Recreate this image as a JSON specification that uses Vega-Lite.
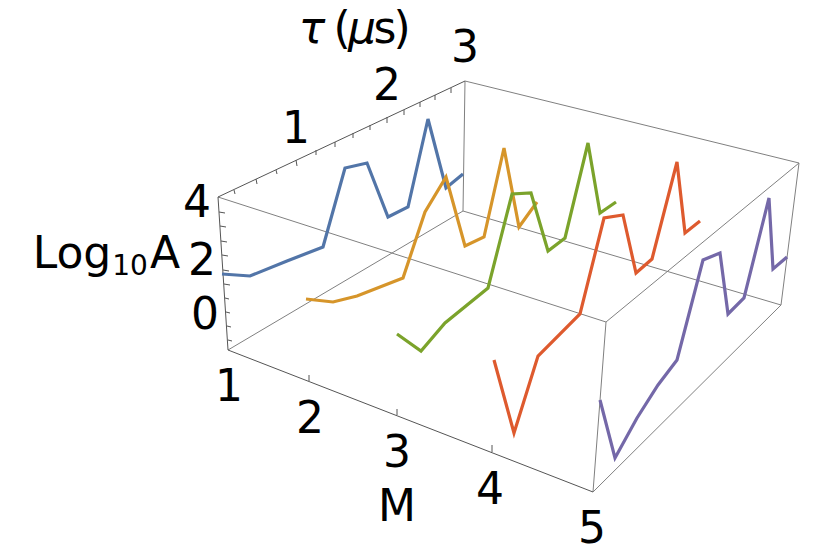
{"$schema":"https://vega.github.io/schema/vega-lite/v6.json","width":830,"height":554,"autosize":{"type":"fit","contains":"padding"},"padding":0,"background":"white","view":{"stroke":null},
"datasets":{
"edges":[
{"e":"AD","x0":218,"y0":197,"x1":606,"y1":322},{"e":"EF","x0":465,"y0":81,"x1":463,"y1":211},{"e":"EG","x0":465,"y0":81,"x1":799,"y1":163},{"e":"DG","x0":606,"y0":322,"x1":799,"y1":163},{"e":"GH","x0":799,"y0":163,"x1":781,"y1":305},{"e":"DC","x0":606,"y0":322,"x1":593,"y1":492},{"e":"CH","x0":593,"y0":492,"x1":781,"y1":305},{"e":"BF","x0":228,"y0":350,"x1":463,"y1":211},{"e":"FH","x0":463,"y0":211,"x1":781,"y1":305}],
"axes":[
{"e":"AE","x0":218,"y0":197,"x1":465,"y1":81},{"e":"AB","x0":218,"y0":197,"x1":228,"y1":350},{"e":"BC","x0":228,"y0":350,"x1":593,"y1":492},
{"e":"m2","x0":309,"y0":381,"x1":309,"y1":375},{"e":"m3","x0":397,"y0":415,"x1":397,"y1":409},{"e":"m4","x0":492,"y0":452,"x1":492,"y1":445},
{"e":"t1","x0":234,"y0":190,"x1":235,"y1":194},{"e":"t2","x0":256,"y0":179,"x1":257,"y1":184},{"e":"t3","x0":276,"y0":170,"x1":277,"y1":174},{"e":"t4","x0":296,"y0":160,"x1":297,"y1":166},{"e":"t5","x0":316,"y0":150,"x1":316,"y1":155},{"e":"t6","x0":335,"y0":142,"x1":335,"y1":147},{"e":"t7","x0":353,"y0":133,"x1":353,"y1":138},{"e":"t8","x0":370,"y0":125,"x1":370,"y1":130},{"e":"t9","x0":387,"y0":117,"x1":387,"y1":123},{"e":"t10","x0":404,"y0":110,"x1":404,"y1":115},{"e":"t11","x0":420,"y0":102,"x1":420,"y1":107},{"e":"t12","x0":435,"y0":95,"x1":435,"y1":100},{"e":"t13","x0":451,"y0":88,"x1":451,"y1":93},
{"e":"z1","x0":219,"y0":212,"x1":225,"y1":213},{"e":"z2","x0":220,"y0":226,"x1":226,"y1":227},{"e":"z3","x0":221,"y0":241,"x1":227,"y1":242},{"e":"z4","x0":222,"y0":255,"x1":228,"y1":256},{"e":"z5","x0":223,"y0":270,"x1":229,"y1":271},{"e":"z6","x0":224,"y0":284,"x1":230,"y1":285},{"e":"z7","x0":225,"y0":298,"x1":229,"y1":299},{"e":"z8","x0":226,"y0":312,"x1":230,"y1":313},{"e":"z9","x0":227,"y0":326,"x1":231,"y1":327},{"e":"z10","x0":228,"y0":340,"x1":232,"y1":341}],
"traces":[
{"M":"1","i":1,"x":222,"y":274},{"M":"1","i":2,"x":250,"y":276},{"M":"1","i":3,"x":287,"y":261},{"M":"1","i":4,"x":323,"y":247},{"M":"1","i":5,"x":345,"y":168},{"M":"1","i":6,"x":367,"y":163},{"M":"1","i":7,"x":388,"y":217},{"M":"1","i":8,"x":408,"y":207},{"M":"1","i":9,"x":428,"y":119},{"M":"1","i":10,"x":446,"y":188},{"M":"1","i":11,"x":463,"y":174},
{"M":"2","i":1,"x":306,"y":299},{"M":"2","i":2,"x":333,"y":302},{"M":"2","i":3,"x":357,"y":296},{"M":"2","i":4,"x":403,"y":278},{"M":"2","i":5,"x":425,"y":212},{"M":"2","i":6,"x":446,"y":177},{"M":"2","i":7,"x":465,"y":246},{"M":"2","i":8,"x":484,"y":237},{"M":"2","i":9,"x":504,"y":148},{"M":"2","i":10,"x":519,"y":227},{"M":"2","i":11,"x":537,"y":202},
{"M":"3","i":1,"x":397,"y":334},{"M":"3","i":2,"x":421,"y":351},{"M":"3","i":3,"x":445,"y":323},{"M":"3","i":4,"x":488,"y":288},{"M":"3","i":5,"x":512,"y":194},{"M":"3","i":6,"x":531,"y":193},{"M":"3","i":7,"x":548,"y":251},{"M":"3","i":8,"x":565,"y":238},{"M":"3","i":9,"x":588,"y":143},{"M":"3","i":10,"x":600,"y":213},{"M":"3","i":11,"x":616,"y":202},
{"M":"4","i":1,"x":494,"y":360},{"M":"4","i":2,"x":514,"y":433},{"M":"4","i":3,"x":538,"y":356},{"M":"4","i":4,"x":580,"y":314},{"M":"4","i":5,"x":604,"y":218},{"M":"4","i":6,"x":623,"y":215},{"M":"4","i":7,"x":636,"y":273},{"M":"4","i":8,"x":652,"y":259},{"M":"4","i":9,"x":677,"y":162},{"M":"4","i":10,"x":685,"y":233},{"M":"4","i":11,"x":700,"y":221},
{"M":"5","i":1,"x":600,"y":400},{"M":"5","i":2,"x":615,"y":458},{"M":"5","i":3,"x":637,"y":418},{"M":"5","i":4,"x":658,"y":385},{"M":"5","i":5,"x":677,"y":360},{"M":"5","i":6,"x":703,"y":260},{"M":"5","i":7,"x":720,"y":253},{"M":"5","i":8,"x":728,"y":314},{"M":"5","i":9,"x":744,"y":298},{"M":"5","i":10,"x":769,"y":198},{"M":"5","i":11,"x":773,"y":269},{"M":"5","i":12,"x":787,"y":257}],
"labels":[
{"t":"1","x":296,"y":143},{"t":"2","x":387,"y":100},{"t":"3","x":465,"y":62},{"t":"4","x":197,"y":217},{"t":"2","x":202,"y":275},{"t":"0","x":205,"y":329},{"t":"1","x":229,"y":401},{"t":"2","x":310,"y":433},{"t":"3","x":397,"y":467},{"t":"4","x":490,"y":504},{"t":"5","x":592,"y":543},{"t":"M","x":397,"y":521},{"t":"Log","x":72,"y":268},{"t":"A","x":165,"y":268},{"t":"(","x":342,"y":43},{"t":"s","x":385,"y":43},{"t":")","x":402,"y":43}],
"italics":[{"t":"τ","x":312,"y":43},{"t":"μ","x":362,"y":43}],
"subs":[{"t":"10","x":130,"y":275}]
},
"encoding":{},
"layer":[
{"data":{"name":"edges"},"mark":{"type":"rule","color":"#808080","strokeWidth":1},"encoding":{"x":{"field":"x0","type":"quantitative","scale":{"domain":[0,830],"nice":false,"zero":false},"axis":null},"y":{"field":"y0","type":"quantitative","scale":{"domain":[554,0],"nice":false,"zero":false},"axis":null},"x2":{"field":"x1"},"y2":{"field":"y1"}}},
{"data":{"name":"axes"},"mark":{"type":"rule","color":"#555555","strokeWidth":1},"encoding":{"x":{"field":"x0","type":"quantitative","axis":null},"y":{"field":"y0","type":"quantitative","axis":null},"x2":{"field":"x1"},"y2":{"field":"y1"}}},
{"data":{"name":"traces"},"mark":{"type":"line","strokeWidth":3.2,"strokeJoin":"miter","interpolate":"linear"},"encoding":{"x":{"field":"x","type":"quantitative","axis":null},"y":{"field":"y","type":"quantitative","axis":null},"order":{"field":"i"},"color":{"field":"M","type":"nominal","legend":null,"scale":{"domain":["1","2","3","4","5"],"range":["#5275A8","#D6952A","#7BA32B","#DE5A2E","#7468A8"]}}}},
{"data":{"name":"labels"},"mark":{"type":"text","font":"DejaVu Sans","fontSize":44,"align":"center","baseline":"alphabetic","color":"black"},"encoding":{"x":{"field":"x","type":"quantitative","axis":null},"y":{"field":"y","type":"quantitative","axis":null},"text":{"field":"t"}}},
{"data":{"name":"italics"},"mark":{"type":"text","font":"DejaVu Sans","fontSize":44,"fontStyle":"italic","align":"center","baseline":"alphabetic","color":"black"},"encoding":{"x":{"field":"x","type":"quantitative","axis":null},"y":{"field":"y","type":"quantitative","axis":null},"text":{"field":"t"}}},
{"data":{"name":"subs"},"mark":{"type":"text","font":"DejaVu Sans","fontSize":28,"align":"center","baseline":"alphabetic","color":"black"},"encoding":{"x":{"field":"x","type":"quantitative","axis":null},"y":{"field":"y","type":"quantitative","axis":null},"text":{"field":"t"}}}
]}
